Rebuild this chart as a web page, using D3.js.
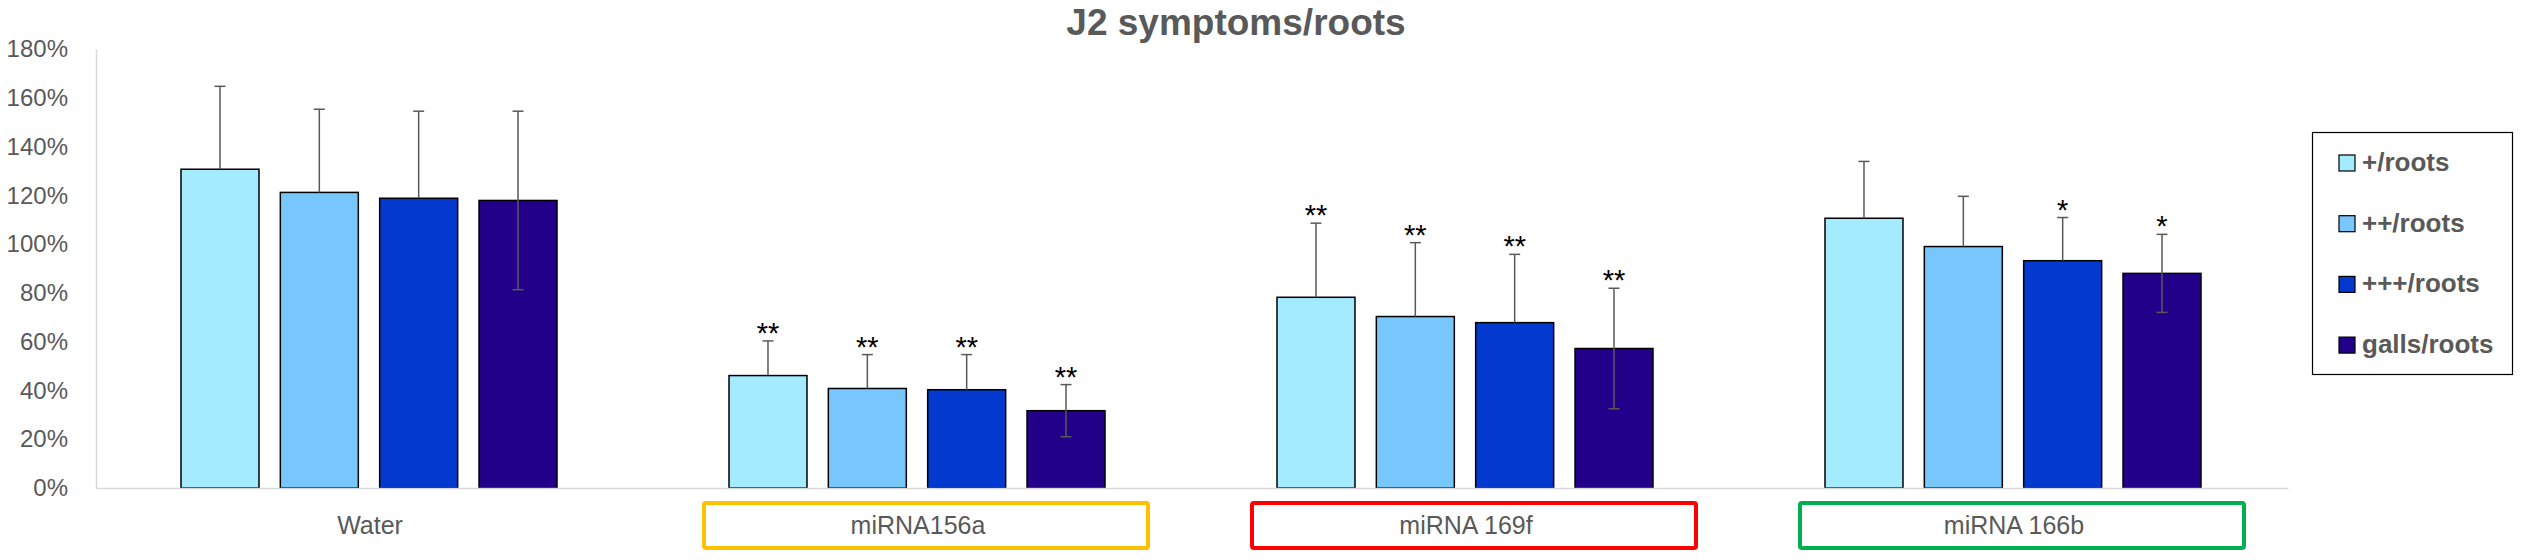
<!DOCTYPE html>
<html>
<head>
<meta charset="utf-8">
<script src="https://cdn.jsdelivr.net/npm/d3@7"></script>
<style>
  html, body { margin: 0; padding: 0; background: #ffffff; }
  svg { display: block; }
  text { font-family: "Liberation Sans", Arial, sans-serif; }
</style>
</head>
<body>
<svg id="chart" width="2522" height="560"></svg>
<script>
// ---- data ----
const categories = ["Water", "miRNA156a", "miRNA 169f", "miRNA 166b"];
const seriesNames = ["+/roots", "++/roots", "+++/roots", "galls/roots"];
const plusRoots    = [130.7, 46.1, 78.2, 110.6];
const plus2Roots   = [121.2, 40.8, 70.3, 99.0];
const plus3Roots   = [118.8, 40.3, 67.8, 93.2];
const gallsRoots   = [117.9, 31.7, 57.2, 88.0];
const errPlus      = [34.0, 14.2, 30.4, 23.3];
const errPlus2     = [34.1, 13.9, 30.3, 20.6];
const errPlus3     = [35.7, 14.4, 28.0, 17.7];
const errGalls     = [36.6, 10.7, 24.7, 16.0];
const sigPlus      = ["", "**", "**", ""];
const sigPlus2     = ["", "**", "**", ""];
const sigPlus3     = ["", "**", "**", "*"];
const sigGalls     = ["", "**", "**", "*"];
const errBothWays  = [false, false, false, true];
const yTicks       = [0, 20, 40, 60, 80, 100, 120, 140, 160, 180];
const title        = "J2 symptoms/roots";

// ---- styles ----
const colors = ["#A4EBFF", "#77C7FD", "#0339CE", "#23008A"];
const boxColors = [null, "#FFC000", "#FF0000", "#00B050"];
const textGray = "#595959";

const values = [plusRoots, plus2Roots, plus3Roots, gallsRoots];
const errors = [errPlus, errPlus2, errPlus3, errGalls];
const sigs = [sigPlus, sigPlus2, sigPlus3, sigGalls];

const svg = d3.select("#chart");

const plotLeft = 96, plotRight = 2288, plotTop = 49, plotBottom = 488;

const x0 = d3.scaleBand().domain(categories).range([plotLeft, plotRight]).paddingInner(0).paddingOuter(0);
const x1 = d3.scaleBand().domain(seriesNames).range([85, 461]).paddingInner(0.215).paddingOuter(0);
const y = d3.scaleLinear().domain([0, 180]).range([plotBottom, plotTop]);

// title
svg.append("text")
  .attr("x", 1236).attr("y", 35)
  .attr("text-anchor", "middle")
  .attr("font-size", 37).attr("font-weight", "bold")
  .attr("fill", textGray)
  .text(title);

// y axis
const yAxis = svg.append("g")
  .attr("transform", `translate(${plotLeft},0)`)
  .call(d3.axisLeft(y).tickValues(yTicks).tickSize(0).tickSizeOuter(0).tickPadding(28).tickFormat(d => d + "%"));
yAxis.select(".domain").attr("stroke", "#D9D9D9").attr("stroke-width", 1.5);
yAxis.selectAll("text").attr("font-size", 24).attr("fill", textGray).attr("font-family", "Liberation Sans, Arial, sans-serif");

// category boxes
categories.forEach((c, i) => {
  if (!boxColors[i]) return;
  const cx = x0(c) + x0.bandwidth() / 2;
  svg.append("rect")
    .attr("x", cx - 214).attr("y", 503)
    .attr("width", 444).attr("height", 45)
    .attr("rx", 2)
    .attr("fill", "none")
    .attr("stroke", boxColors[i]).attr("stroke-width", 4);
});

// bars
const groups = svg.append("g").selectAll("g")
  .data(categories).join("g")
  .attr("transform", c => `translate(${x0(c)},0)`);

seriesNames.forEach((s, si) => {
  groups.append("rect")
    .attr("x", x1(s))
    .attr("y", (c, ci) => y(values[si][ci]))
    .attr("width", x1.bandwidth())
    .attr("height", (c, ci) => y(0) - y(values[si][ci]))
    .attr("fill", colors[si])
    .attr("stroke", "#000").attr("stroke-width", 1.5);
});

// error bars
seriesNames.forEach((s, si) => {
  groups.each(function(c, ci) {
    const g = d3.select(this);
    const cx = x1(s) + x1.bandwidth() / 2;
    const v = values[si][ci], e = errors[si][ci];
    const top = y(v + e);
    const bottom = errBothWays[si] ? y(v - e) : y(v);
    g.append("line").attr("x1", cx).attr("x2", cx).attr("y1", top).attr("y2", bottom)
      .attr("stroke", textGray).attr("stroke-width", 1.5);
    g.append("line").attr("x1", cx - 5.5).attr("x2", cx + 5.5).attr("y1", top).attr("y2", top)
      .attr("stroke", textGray).attr("stroke-width", 1.5);
    if (errBothWays[si]) {
      g.append("line").attr("x1", cx - 5.5).attr("x2", cx + 5.5).attr("y1", bottom).attr("y2", bottom)
        .attr("stroke", textGray).attr("stroke-width", 1.5);
    }
    const sg = sigs[si][ci];
    if (sg) {
      g.append("text")
        .attr("x", cx).attr("y", top + 2)
        .attr("text-anchor", "middle")
        .attr("font-size", 29)
        .attr("fill", "#000")
        .text(sg);
    }
  });
});

// x axis
const xAxis = svg.append("g")
  .attr("transform", `translate(0,${plotBottom})`)
  .call(d3.axisBottom(x0).tickSize(0).tickSizeOuter(0).tickPadding(28));
xAxis.select(".domain").attr("stroke", "#D9D9D9").attr("stroke-width", 1.5);
xAxis.selectAll("text").attr("font-size", 25).attr("fill", textGray).attr("font-family", "Liberation Sans, Arial, sans-serif");

// legend
const legend = svg.append("g");
legend.append("rect")
  .attr("x", 2312.5).attr("y", 132.5).attr("width", 200).attr("height", 242)
  .attr("fill", "#fff").attr("stroke", "#000").attr("stroke-width", 1.2);
const lItems = legend.selectAll("g.item").data(seriesNames).join("g")
  .attr("class", "item")
  .attr("transform", (d, i) => `translate(2339, ${155 + i * 60.7})`);
lItems.append("rect")
  .attr("width", 16).attr("height", 16)
  .attr("fill", (d, i) => colors[i])
  .attr("stroke", "#000").attr("stroke-width", 1.2);
lItems.append("text")
  .attr("x", 23).attr("y", 16)
  .attr("font-size", 26).attr("font-weight", "bold")
  .attr("fill", textGray)
  .text(d => d);
</script>
</body>
</html>
